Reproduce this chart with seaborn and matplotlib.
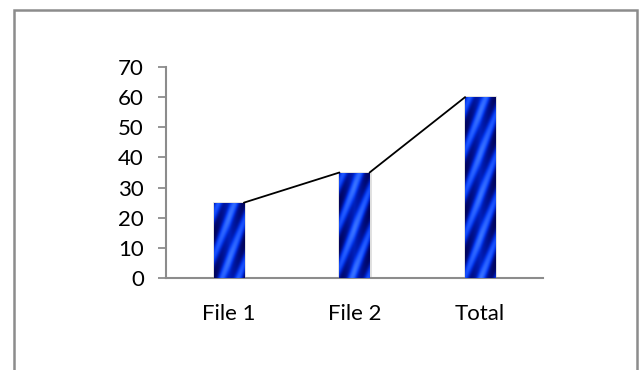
import numpy as np
import pandas as pd
import matplotlib
matplotlib.use("Agg")
import matplotlib.pyplot as plt
from matplotlib.colors import LinearSegmentedColormap
from matplotlib.patches import Rectangle
import seaborn as sns

categories = ["File 1", "File 2", "Total"]
values = [25, 35, 60]
y_ticks = [0, 10, 20, 30, 40, 50, 60, 70]

df = pd.DataFrame({"category": categories, "value": values})

sns.set_theme(style="white")
plt.rcParams["font.family"] = ["Lato", "DejaVu Sans"]

fig = plt.figure(figsize=(6.39, 3.70), dpi=100)
ax = fig.add_axes([166 / 639, 1 - 278 / 370, (543 - 166) / 639, (278 - 67) / 370])

sns.barplot(data=df, x="category", y="value", color="#1240e0", width=0.24,
            edgecolor="#dedede", linewidth=2.0, ax=ax, zorder=2)

# striped blue gradient inside each bar (steep "/" stripes)
stripe_cmap = LinearSegmentedColormap.from_list(
    "stripes", ["#00035a", "#0018a8", "#0234e8", "#1c55ff", "#3a74ff"])
for bar in ax.patches:
    x0, y0 = bar.get_x(), bar.get_y()
    w, h = bar.get_width(), bar.get_height()
    px_h = h / 70 * 211
    ny, nx = int(px_h * 2), 60
    yy, xx = np.mgrid[0:ny, 0:nx]
    x_px = xx / nx * 30
    y_px = yy / ny * px_h
    phase = (y_px + 2.6 * x_px) / 42.0
    stripes = (np.sin(phase * 2 * np.pi) + 1) / 2
    stripes = stripes ** 1.6
    edge = 1 - np.abs(xx / (nx - 1) - 0.5) * 1.4
    img = 0.6 * stripes + 0.4 * edge
    im = ax.imshow(img, extent=(x0, x0 + w, y0, y0 + h), origin="upper",
                   cmap=stripe_cmap, aspect="auto", zorder=3, interpolation="bilinear")
    im.set_clip_path(bar)

# series lines between bar tops
bars = list(ax.patches)
for a, b in zip(bars[:-1], bars[1:]):
    ax.plot([a.get_x() + a.get_width(), b.get_x()],
            [a.get_height(), b.get_height()], color="black", lw=1.3, zorder=4)

ax.set_xlim(-0.5, 2.5)
ax.set_ylim(0, 70)
ax.set_yticks(y_ticks)
ax.set_xlabel("")
ax.set_ylabel("")
ax.tick_params(axis="y", length=6, width=1.3, color="#8c8c8c", labelsize=16, pad=10, left=True)
ax.tick_params(axis="x", length=0, labelsize=16, pad=19)
for lbl in ax.get_xticklabels() + ax.get_yticklabels():
    lbl.set_color("black")
for side in ["top", "right"]:
    ax.spines[side].set_visible(False)
for side in ["left", "bottom"]:
    ax.spines[side].set_color("#8c8c8c")
    ax.spines[side].set_linewidth(1.5)

# outer chart border
fig.add_artist(Rectangle((14 / 639, -0.05), (637 - 14) / 639, 1.05 - 9.5 / 370,
                         transform=fig.transFigure, fill=False,
                         edgecolor="#8c8c8c", linewidth=1.8))

fig.savefig("out.png", dpi=100)
